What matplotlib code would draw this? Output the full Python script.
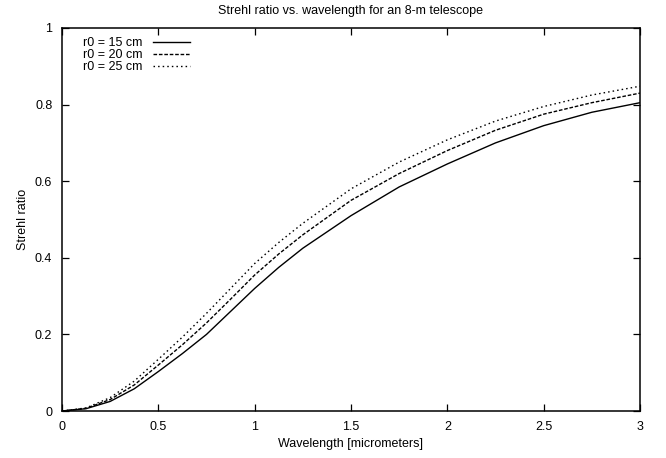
import numpy as np
import matplotlib
matplotlib.use("Agg")
import matplotlib.pyplot as plt

plt.rcParams['font.family'] = ['Liberation Sans', 'DejaVu Sans']

# Werte
wavelength = [0, 0.125, 0.25, 0.375, 0.5, 0.625, 0.75, 0.875, 1.0,
              1.125, 1.25, 1.5, 1.75, 2.0, 2.25, 2.5, 2.75, 3.0]
strehl_r15 = [0, 0.006, 0.025, 0.058, 0.103, 0.15, 0.20, 0.26, 0.32,
              0.375, 0.425, 0.51, 0.585, 0.645, 0.70, 0.745, 0.78, 0.805]
strehl_r20 = [0, 0.007, 0.03, 0.068, 0.12, 0.173, 0.23, 0.292, 0.355,
              0.41, 0.46, 0.55, 0.62, 0.68, 0.733, 0.775, 0.805, 0.83]
strehl_r25 = [0, 0.008, 0.035, 0.078, 0.135, 0.193, 0.255, 0.32, 0.385,
              0.44, 0.49, 0.58, 0.65, 0.708, 0.757, 0.795, 0.825, 0.848]
labels = ["r0 = 15 cm", "r0 = 20 cm", "r0 = 25 cm"]

fig = plt.figure(figsize=(6.66, 4.58), dpi=100)
ax = fig.add_axes([62 / 666, 47 / 458, 578 / 666, 383 / 458])

ax.plot(wavelength, strehl_r15, color="black", lw=1.0, ls="-", label=labels[0])
ax.plot(wavelength, strehl_r20, color="black", lw=1.0, ls=(0, (2.6, 1.3)), label=labels[1])
ax.plot(wavelength, strehl_r25, color="black", lw=1.0, ls=(0, (1.1, 2.2)), label=labels[2])

ax.set_xlim(0, 3)
ax.set_ylim(0, 1)
ax.set_xticks([0, 0.5, 1, 1.5, 2, 2.5, 3])
ax.set_xticklabels(["0", "0.5", "1", "1.5", "2", "2.5", "3"])
ax.set_yticks([0, 0.2, 0.4, 0.6, 0.8, 1])
ax.set_yticklabels(["0", "0.2", "0.4", "0.6", "0.8", "1"])
ax.tick_params(direction="in", length=5, width=0.9, top=True, right=True,
               labelsize=9, pad=7, colors="black")
for s in ax.spines.values():
    s.set_linewidth(1.1)

ax.set_xlabel("Wavelength [micrometers]", fontsize=9, labelpad=4)
ax.set_ylabel("Strehl ratio", fontsize=9, labelpad=4)
ax.set_title("Strehl ratio vs. wavelength for an 8-m telescope", fontsize=9, pad=10)

ax.legend(loc="upper left", bbox_to_anchor=(0.024, 0.995), frameon=False,
          markerfirst=False, fontsize=9, handlelength=3.0, handletextpad=0.8,
          labelspacing=0.0, borderaxespad=0.2)

fig.savefig("out.png", dpi=100)
